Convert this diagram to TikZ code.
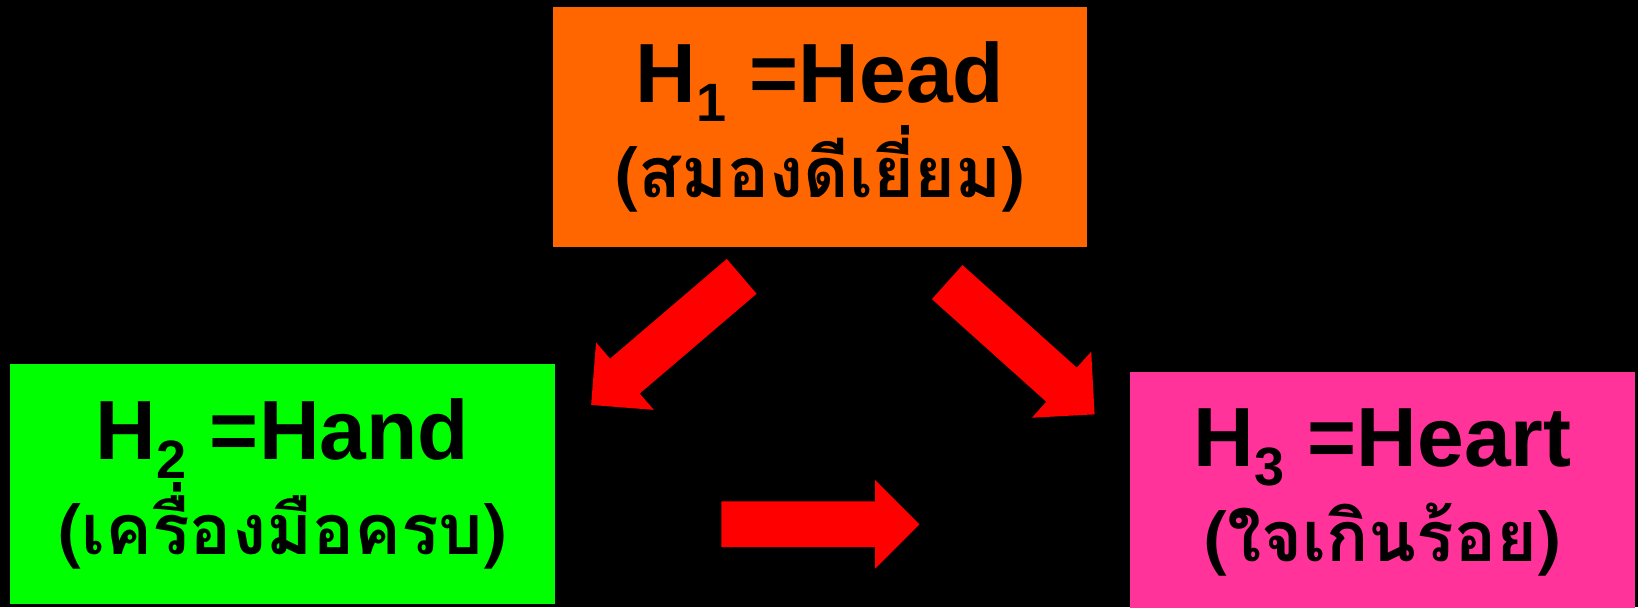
\documentclass[tikz,border=0pt]{standalone}
\usepackage{fontspec}
\setmainfont{Liberation Sans}
\newfontfamily\thaifont[Script=Thai]{Loma}
\usetikzlibrary{shapes.arrows}
\definecolor{headOrange}{HTML}{FF6600}
\definecolor{handGreen}{HTML}{00FF00}
\definecolor{heartPink}{HTML}{FF3399}
\definecolor{arrowRed}{HTML}{FF0000}

\begin{document}
\begin{tikzpicture}
[x=0.5pt,y=-0.5pt,
 boxDecorate/.style={shape=rectangle,inner sep=0pt,minimum height=120pt,
   align=center,text=black,font=\fontsize{42}{47.5}\selectfont\bfseries},
 arrowDecorate/.style={shape=single arrow,fill=arrowRed,inner xsep=0pt,
   inner ysep=11.25pt,minimum height=99pt,single arrow head extend=10.75pt,
   single arrow tip angle=90,single arrow head indent=0pt,anchor=tip}]
\useasboundingbox (0,0) rectangle (1638,607);
\fill[black] (0,0) rectangle (1638,607);
%% boxes
\foreach \nodename/\x/\y/\w/\colour/\idx/\word/\thai in {
  head/820/127/267pt/headOrange/1/Head/สมองดีเยี่ยม,
  hand/282.5/483.5/272.5pt/handGreen/2/Hand/เครื่องมือครบ,
  heart/1382.5/492/252.5pt/heartPink/3/Heart/ใจเกินร้อย} {
  \node (\nodename) at (\x,\y) [boxDecorate,fill=\colour,minimum width=\w]
    {H\raisebox{-9.5pt}{\fontsize{27}{27}\selectfont\idx} =\word\\
     {\thaifont\fontsize{35}{47.5}\selectfont(\thai)}};
}
%% block arrows
\foreach \arrowname/\x/\y/\rot in {left/590.7/405.3/220.5,
  right/1095/414.7/-41.9, across/920/524.3/0} {
  \node (\arrowname) at (\x,\y) [arrowDecorate,rotate=\rot] {};
}
\end{tikzpicture}
\end{document}
